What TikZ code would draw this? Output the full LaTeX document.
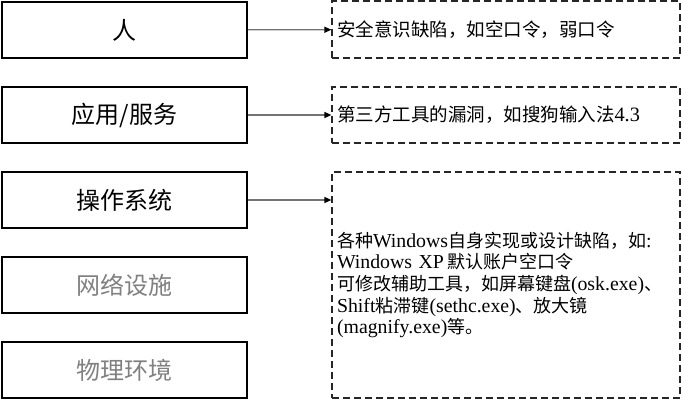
\documentclass[tikz,border=0pt]{standalone}
\usepackage{fontspec}
\setmainfont[Scale=1.1]{Liberation Serif}
\newfontfamily\cjk{Noto Sans CJK SC}
\usetikzlibrary{arrows.meta}
\newcommand{\zh}[1]{{\cjk #1}}
\newcommand{\layerbox}[4][]{\node[layer,#1] at (#2) (#3) {#4}}
\newcommand{\notebox}[5][]{\node[note,minimum height=#4,#1] at (#2) (#3) {#5}}

\begin{document}
\begin{tikzpicture}[x=1pt,y=-1pt,
		layer/.style={draw,line width=1.6pt,minimum width=245pt,minimum height=56pt,inner sep=0pt,font=\cjk\fontsize{24}{28}\selectfont},
		note/.style={draw=black!85,line width=1.2pt,dash pattern=on 7pt off 4pt,text width=338pt,inner xsep=5pt,inner ysep=0pt,align=left},
		link/.style={draw=black!55,line width=1.3pt,-{Triangle[black,length=7pt,width=6pt]}}]
				\useasboundingbox (0,0) rectangle (682,400);
				
				\layerbox{124.5,30}{ren}{人};
				\layerbox{124.5,115}{app}{应用/服务};
				\layerbox{124.5,200}{os}{操作系统};
				\layerbox[text=black!50]{124.5,285}{net}{网络设施};
				\layerbox[text=black!50]{124.5,370}{phy}{物理环境};
				
				\notebox[font=\cjk\fontsize{18.5}{22}\selectfont]{506,29.5}{renN}{57pt}{安全意识缺陷，如空口令，弱口令};
				\notebox[font=\fontsize{18.5}{22}\selectfont]{506,115}{appN}{56pt}{\zh{第三方工具的漏洞，如搜狗输入法}4.3};
				\notebox[font=\fontsize{18}{21.7}\selectfont]{506,285}{osN}{226pt}{\zh{各种}Windows\zh{自身实现或设计缺陷，如}:\\
					Windows XP\,\zh{默认账户空口令}\\
					\zh{可修改辅助工具，如屏幕键盘}(osk.exe)\zh{、}\\
					Shift\zh{粘滞键}(sethc.exe)\zh{、放大镜}\\
					(magnify.exe)\zh{等。}};
				
				\draw [link] (ren) -- (renN);
				\draw [link] (app) -- (appN);
				\draw [link] (os.east) -- (os.east -| osN.west);
				
				\end{tikzpicture}
\end{document}
